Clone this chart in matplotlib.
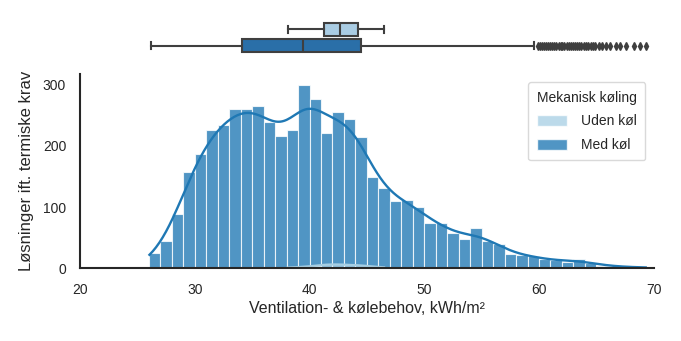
import numpy as np
import matplotlib.pyplot as plt
from matplotlib.patches import Patch

plt.rcParams['font.family'] = ['Liberation Sans', 'DejaVu Sans']

# --- data: antal løsninger pr. 1 kWh/m² bin ---
bin_start = 26.0
bin_width = 1.0
med_kol = [25, 44, 89, 157, 187, 226, 234, 261, 260, 265,
           239, 217, 226, 300, 277, 222, 256, 244, 215, 150,
           131, 110, 111, 100, 73, 73, 58, 47, 65, 45,
           39, 23, 22, 19, 14, 13, 10, 15, 8, 4,
           3, 2, 1, 1]
uden_kol = [0] * 12 + [1, 2, 3, 7, 6, 5, 5, 2, 1] + [0] * 23

# boxplot-statistik aflæst pr. gruppe
box_labels = ['Uden køl', 'Med køl']
box_q1 = [41.3, 34.15]
box_med = [42.7, 39.4]
box_q3 = [44.25, 44.5]
box_lo = [38.1, 26.2]
box_hi = [46.5, 59.6]
fliers_med = [59.9, 60.1, 60.3, 60.4, 60.6, 60.8, 61.0, 61.1, 61.3, 61.5,
              61.7, 61.9, 62.0, 62.2, 62.4, 62.6, 62.8, 63.0, 63.1, 63.3,
              63.5, 63.7, 63.9, 64.1, 64.3, 64.5, 64.7, 64.9, 65.2, 65.5,
              65.8, 66.2, 66.75, 67.1, 67.6, 68.3, 68.8, 69.3]

data_min, data_max = 26.05, 69.3

c_uden = '#a6cee3'
c_med = '#1f78b4'
c_txt = '#262626'


def kde_counts(counts, lo, hi):
    # gaussisk kde (scott) på bin-centre, skaleret til antal pr. bin
    counts = np.asarray(counts, dtype=float)
    centers = bin_start + bin_width * (np.arange(len(counts)) + 0.5)
    n = counts.sum()
    mean = np.sum(counts * centers) / n
    std = np.sqrt(np.sum(counts * (centers - mean) ** 2) / n + bin_width ** 2 / 12)
    bw = std * n ** (-1 / 5)
    xs = np.linspace(lo, hi, 300)
    dens = np.sum(counts[:, None] * np.exp(-0.5 * ((xs[None, :] - centers[:, None]) / bw) ** 2), axis=0)
    dens /= n * bw * np.sqrt(2 * np.pi)
    return xs, dens * n * bin_width


fig = plt.figure(figsize=(6.81, 3.41), dpi=100)
ax_box = fig.add_axes([0.1175, 0.842, 0.8425, 0.096])
ax = fig.add_axes([0.1175, 0.214, 0.8425, 0.569])

# --- histogram ---
edges = bin_start + bin_width * np.arange(len(med_kol))
ax.bar(edges, med_kol, width=bin_width, align='edge', color=c_med, alpha=0.78,
       edgecolor='white', linewidth=0.8)
ax.bar(edges, uden_kol, width=bin_width, align='edge', color=c_uden, alpha=0.75,
       edgecolor='white', linewidth=0.8)

xs, ys = kde_counts(med_kol, data_min, data_max)
ax.plot(xs, ys, color=c_med, lw=1.7)
xs_u, ys_u = kde_counts(uden_kol, 38.1, 46.5)
ax.plot(xs_u, ys_u, color=c_uden, lw=1.6)

ax.set_xlim(20, 70)
ax.set_ylim(0, 318)
ax.set_xticks([20, 30, 40, 50, 60, 70])
ax.set_yticks([0, 100, 200, 300])
ax.tick_params(length=0, labelsize=10, colors=c_txt)
ax.tick_params(axis='x', pad=11)
ax.tick_params(axis='y', pad=10)
for s in ['top', 'right']:
    ax.spines[s].set_visible(False)
for s in ['left', 'bottom']:
    ax.spines[s].set_color(c_txt)
    ax.spines[s].set_linewidth(1.5)
ax.set_xlabel('Ventilation- & kølebehov, kWh/m²', fontsize=11.5, color=c_txt, labelpad=3)
ax.set_ylabel('Løsninger ift. termiske krav', fontsize=12, color=c_txt, labelpad=6)

handles = [Patch(facecolor=c_uden, alpha=0.75, edgecolor='white'),
           Patch(facecolor=c_med, alpha=0.78, edgecolor='white')]
leg = ax.legend(handles, box_labels, title='Mekanisk køling', loc='upper right',
                bbox_to_anchor=(1.0, 1.0), borderaxespad=0.6, borderpad=0.6,
                fontsize=10, title_fontsize=10, frameon=True,
                handlelength=2.2, handleheight=0.8, labelspacing=0.7,
                handletextpad=1.0)
leg.get_frame().set_edgecolor('#d0d0d0')
for t in leg.get_texts() + [leg.get_title()]:
    t.set_color(c_txt)

# --- boxplot over histogrammet ---
stats = []
for i in range(2):
    stats.append(dict(label=box_labels[i], q1=box_q1[i], med=box_med[i], q3=box_q3[i],
                      whislo=box_lo[i], whishi=box_hi[i],
                      fliers=fliers_med if i == 1 else []))
bp = ax_box.bxp(stats, positions=[0, 1], widths=0.8, orientation='horizontal',
                patch_artist=True, showcaps=True,
                boxprops=dict(edgecolor='#3f3f3f', linewidth=1.5),
                medianprops=dict(color='#3f3f3f', linewidth=1.5),
                whiskerprops=dict(color='#3f3f3f', linewidth=1.5),
                capprops=dict(color='#3f3f3f', linewidth=1.5),
                flierprops=dict(marker='d', markerfacecolor='#3f3f3f',
                                markeredgecolor='#3f3f3f', markersize=3.8))
for patch, fc in zip(bp['boxes'], ['#a9cce3', '#2a6fa8']):
    patch.set_facecolor(fc)
ax_box.set_xlim(20, 70)
ax_box.set_ylim(1.5, -0.5)
ax_box.axis('off')

fig.savefig('out.png', dpi=100)
